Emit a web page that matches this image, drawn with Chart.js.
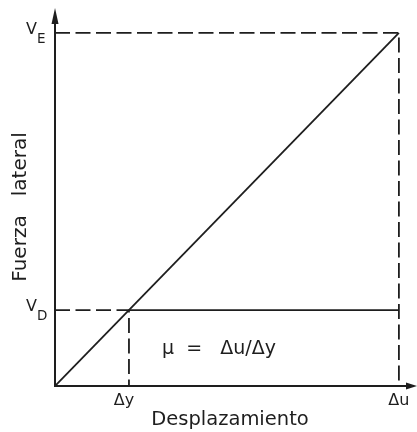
<!DOCTYPE html>
<html>
<head>
<meta charset="utf-8">
<script src="https://cdn.jsdelivr.net/npm/chart.js@4/dist/chart.umd.min.js"></script>
<style>
  html, body { margin: 0; padding: 0; background: #fff; }
  #wrap { width: 417px; height: 432px; position: relative; }
</style>
</head>
<body>
<div id="wrap"><canvas id="c"></canvas></div>
<script>
// Idealised bilinear capacity curve: displacement (x) vs lateral force (y)
const dispValues = [1, 4.65];           // Δy (yield), Δu (ultimate)
const dispLabels = ['Δy', 'Δu'];
const forceValues = [1, 4.65];          // V_D (design), V_E (elastic)
const forceLabels = [['V', 'D'], ['V', 'E']];
const axisTitles = { x: 'Desplazamiento', y: 'Fuerza   lateral' };
const ductilityText = 'μ  =   Δu/Δy';

const [DY, DU] = dispValues;
const [VD, VE] = forceValues;

const ink = '#1e1e1e';
const FONT = '"DejaVu Sans", sans-serif';

const lineBase = { showLine: true, pointRadius: 0, borderColor: ink, fill: false, tension: 0 };
const dash = [15, 5.5];

const datasets = [
  // elastic response line
  { ...lineBase, borderWidth: 1.8, data: [{ x: 0, y: 0 }, { x: DU, y: VE }] },
  // design plateau
  { ...lineBase, borderWidth: 1.8, data: [{ x: DY, y: VD }, { x: DU, y: VD }] },
  // reference lines for V_E / Δu
  { ...lineBase, borderWidth: 1.8, borderDash: dash,
    data: [{ x: 0, y: VE }, { x: DU, y: VE }, { x: DU, y: 0 }] },
  // reference lines for V_D / Δy
  { ...lineBase, borderWidth: 1.8, borderDash: dash,
    data: [{ x: 0, y: VD }, { x: DY, y: VD }, { x: DY, y: 0 }] }
];

const annotate = {
  id: 'annotate',
  afterDraw(chart) {
    const { ctx, chartArea: a, scales: { x, y } } = chart;
    ctx.save();
    ctx.fillStyle = ink;

    // arrowheads on both axes
    ctx.beginPath();
    ctx.moveTo(a.left, a.top - 12);
    ctx.lineTo(a.left - 3.5, a.top + 4);
    ctx.lineTo(a.left + 3.5, a.top + 4);
    ctx.closePath();
    ctx.fill();
    ctx.beginPath();
    ctx.moveTo(a.right + 7, a.bottom);
    ctx.lineTo(a.right - 4, a.bottom - 3.5);
    ctx.lineTo(a.right - 4, a.bottom + 3.5);
    ctx.closePath();
    ctx.fill();

    // displacement tick labels
    ctx.font = '16px ' + FONT;
    ctx.textAlign = 'center';
    ctx.textBaseline = 'top';
    dispValues.forEach((v, i) => {
      ctx.fillText(dispLabels[i], x.getPixelForValue(v) - (i === 0 ? 5 : 0), a.bottom + 7);
    });

    // force tick labels with subscripts
    forceValues.forEach((v, i) => {
      const py = y.getPixelForValue(v);
      ctx.textAlign = 'left';
      ctx.textBaseline = 'alphabetic';
      ctx.font = '16px ' + FONT;
      ctx.fillText(forceLabels[i][0], 26, py + 1);
      ctx.font = '13.5px ' + FONT;
      ctx.fillText(forceLabels[i][1], 37, py + 10);
    });

    // axis titles
    ctx.font = '19.5px ' + FONT;
    ctx.textAlign = 'center';
    ctx.textBaseline = 'middle';
    ctx.fillText(axisTitles.x, 230, 420);
    ctx.font = '20px ' + FONT;
    ctx.save();
    ctx.translate(21, 207);
    ctx.rotate(-Math.PI / 2);
    ctx.fillText(axisTitles.y, 0, 0);
    ctx.restore();

    // ductility ratio
    ctx.font = '19px ' + FONT;
    ctx.textAlign = 'left';
    ctx.fillText(ductilityText, 162, 349);
    ctx.restore();
  }
};

new Chart(document.getElementById('c'), {
  type: 'scatter',
  data: { datasets },
  plugins: [annotate],
  options: {
    responsive: true,
    maintainAspectRatio: false,
    animation: false,
    layout: { padding: { left: 55, top: 20, right: 7, bottom: 46 } },
    plugins: { legend: { display: false }, tooltip: { enabled: false } },
    elements: { line: { clip: false } },
    scales: {
      x: {
        type: 'linear', min: 0, max: 4.80,
        ticks: { display: false },
        grid: { display: false, drawTicks: false },
        border: { color: ink, width: 2 }
      },
      y: {
        type: 'linear', min: 0, max: 4.82,
        ticks: { display: false },
        grid: { display: false, drawTicks: false },
        border: { color: ink, width: 2 }
      }
    }
  }
});
</script>
</body>
</html>
